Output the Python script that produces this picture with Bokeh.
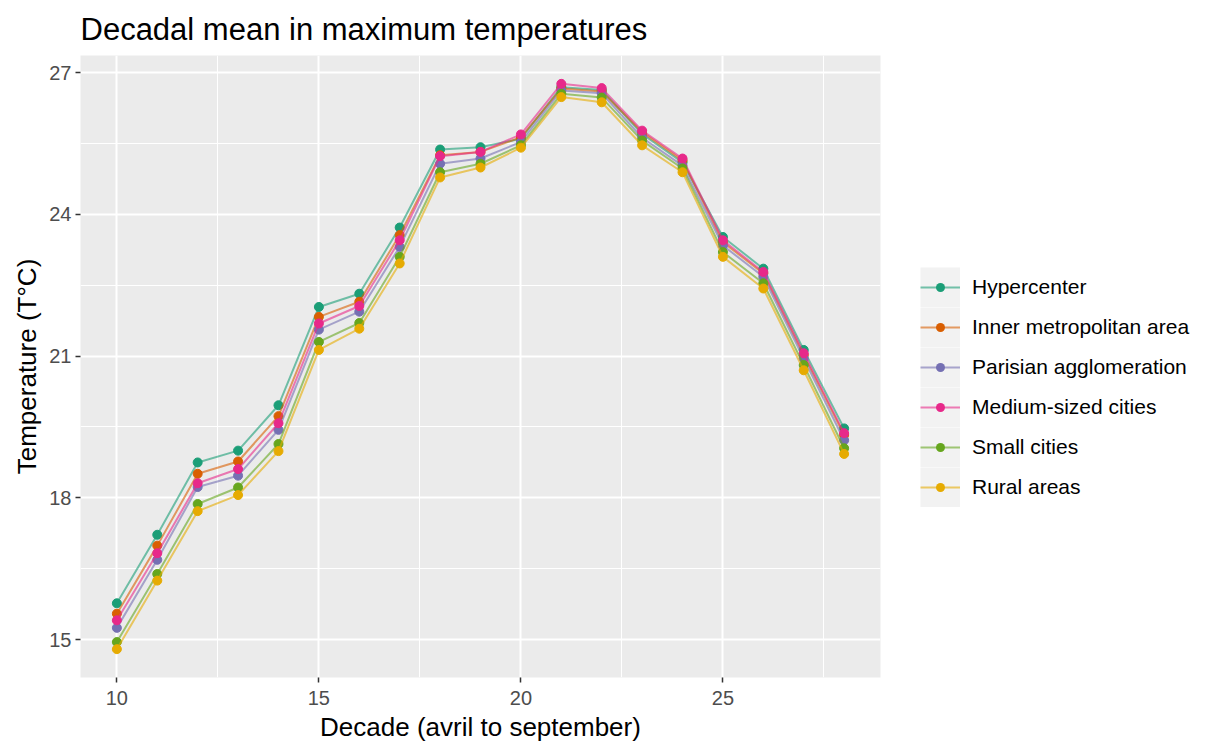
from bokeh.plotting import figure
from bokeh.models import (Range1d, FixedTicker, Legend, LegendItem, ColumnDataSource)
from bokeh.embed import file_html
from bokeh.resources import INLINE

decades = list(range(10, 29))
series_names = ["Hypercenter", "Inner metropolitan area", "Parisian agglomeration",
                "Medium-sized cities", "Small cities", "Rural areas"]
hypercenter = [15.77, 17.22, 18.75, 19.00, 19.96, 22.04, 22.32, 23.72, 25.37, 25.42,
               25.60, 26.69, 26.63, 25.70, 25.10, 23.52, 22.85, 21.13, 19.47]
inner_metro = [15.55, 16.99, 18.51, 18.77, 19.73, 21.83, 22.15, 23.56, 25.25, 25.32,
               25.63, 26.66, 26.60, 25.74, 25.14, 23.41, 22.75, 21.02, 19.33]
parisian = [15.25, 16.69, 18.23, 18.47, 19.44, 21.56, 21.94, 23.31, 25.07, 25.18,
            25.53, 26.62, 26.56, 25.62, 25.03, 23.34, 22.68, 20.95, 19.22]
medium = [15.41, 16.83, 18.31, 18.61, 19.58, 21.69, 22.06, 23.45, 25.23, 25.32,
          25.69, 26.76, 26.67, 25.77, 25.18, 23.45, 22.78, 21.06, 19.37]
small = [14.95, 16.39, 17.87, 18.22, 19.14, 21.30, 21.70, 23.10, 24.89, 25.07,
         25.46, 26.55, 26.47, 25.56, 24.97, 23.20, 22.54, 20.81, 19.05]
rural = [14.80, 16.25, 17.72, 18.06, 18.99, 21.13, 21.58, 22.96, 24.78, 24.99,
         25.41, 26.48, 26.37, 25.46, 24.89, 23.10, 22.43, 20.70, 18.93]
series_values = [hypercenter, inner_metro, parisian, medium, small, rural]
colors = ["#1B9E77", "#D95F02", "#7570B3", "#E7298A", "#66A61E", "#E6AB02"]
x_ticks = [10, 15, 20, 25]
x_minor = [12.5, 17.5, 22.5, 27.5]
y_ticks = [15, 18, 21, 24, 27]
y_minor = [16.5, 19.5, 22.5, 25.5]

FONT = "Liberation Sans"

p = figure(frame_width=800, frame_height=622,
           min_border_left=80, min_border_right=320, min_border_top=55, min_border_bottom=70,
           x_range=Range1d(9.1, 28.9), y_range=Range1d(14.2, 27.36),
           output_backend="svg", toolbar_location=None,
           title="Decadal mean in maximum temperatures")

p.background_fill_color = "#EBEBEB"
p.border_fill_color = "white"
p.outline_line_color = None

p.title.text_font = FONT
p.title.text_font_size = "31px"
p.title.text_font_style = "normal"
p.title.text_color = "black"
p.title.align = "left"
p.title.offset = 0
p.title.standoff = 18

p.xaxis.ticker = FixedTicker(ticks=x_ticks, minor_ticks=x_minor)
p.yaxis.ticker = FixedTicker(ticks=y_ticks, minor_ticks=y_minor)
for ax in (p.xaxis, p.yaxis):
    ax.axis_line_color = None
    ax.major_tick_line_color = "#333333"
    ax.major_tick_line_width = 1.5
    ax.major_tick_out = 5
    ax.major_tick_in = 0
    ax.minor_tick_line_color = None
    ax.major_label_text_font = FONT
    ax.major_label_text_font_size = "20px"
    ax.major_label_text_color = "#4D4D4D"
    ax.axis_label_text_font = FONT
    ax.axis_label_text_font_size = "26px"
    ax.axis_label_text_font_style = "normal"
    ax.axis_label_text_color = "black"
p.xaxis.major_label_standoff = 8
p.xaxis.axis_label_standoff = 4
p.yaxis.major_label_standoff = 4
p.yaxis.axis_label_standoff = 4
p.xaxis.axis_label = "Decade (avril to september)"
p.yaxis.axis_label = "Temperature (T°C)"

for g in (p.xgrid, p.ygrid):
    g.grid_line_color = "white"
    g.grid_line_width = 2
    g.minor_grid_line_color = "white"
    g.minor_grid_line_width = 1

# legend-only renderers (NaN data, invisible in the plot):
# a thick grey band forming the key column, and a round dot per key
nan = float("nan")
key_band = p.line(x=[nan, nan], y=[nan, nan], line_color="#F2F2F2",
                  line_width=40, line_cap="butt")

items = []
for name, vals, col in zip(series_names, series_values, colors):
    src = ColumnDataSource(dict(x=decades, y=vals))
    lr = p.line("x", "y", source=src, line_color=col, line_width=2, line_alpha=0.6)
    sr = p.scatter("x", "y", source=src, size=9, fill_color=col, line_color=col)
    key_dot = p.line(x=[nan, nan], y=[nan, nan], line_color=col, line_width=9,
                     line_cap="round", line_dash="0 1000", line_dash_offset=-20)
    items.append(LegendItem(label=name, renderers=[key_band, lr, key_dot]))

legend = Legend(items=items, location=(40, 170), orientation="vertical")
legend.label_text_font = FONT
legend.label_text_font_size = "21px"
legend.label_text_color = "black"
legend.label_standoff = 12
legend.glyph_width = 40
legend.glyph_height = 40
legend.label_height = 40
legend.spacing = 0
legend.padding = 0
legend.margin = 0
legend.border_line_color = None
legend.background_fill_alpha = 0
p.add_layout(legend, "right")

open("out.html", "w").write(file_html(p, INLINE))
